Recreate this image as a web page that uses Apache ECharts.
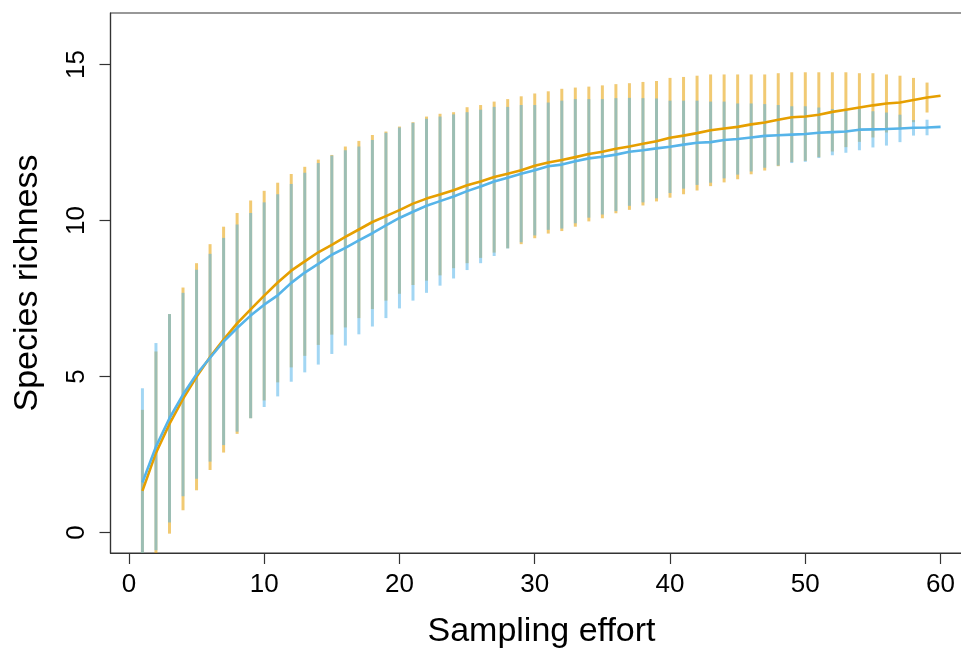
<!DOCTYPE html>
<html>
<head>
<meta charset="utf-8">
<script src="https://cdn.jsdelivr.net/npm/echarts@6/dist/echarts.min.js"></script>
<style>
html,body{margin:0;padding:0;background:#fff;}
#chart{width:961px;height:648px;}
</style>
</head>
<body>
<div id="chart"></div>
<script>
// Sampling effort (x) values
const effort = [1,2,3,4,5,6,7,8,9,10,11,12,13,14,15,16,17,18,19,20,21,22,23,24,25,26,27,28,29,30,31,32,33,34,35,36,37,38,39,40,41,42,43,44,45,46,47,48,49,50,51,52,53,54,55,56,57,58,59,60];
// Orange series: mean richness and standard deviation
const orangeMean = [1.33,2.55,3.48,4.28,4.99,5.62,6.18,6.70,7.15,7.59,8.01,8.39,8.69,8.98,9.22,9.47,9.71,9.95,10.14,10.33,10.54,10.70,10.83,10.97,11.13,11.25,11.39,11.50,11.61,11.75,11.86,11.94,12.03,12.13,12.20,12.30,12.37,12.46,12.54,12.65,12.72,12.80,12.89,12.95,13.00,13.08,13.14,13.23,13.31,13.33,13.39,13.48,13.55,13.62,13.69,13.75,13.78,13.86,13.94,14.00];
const orangeSD = [2.60,3.25,3.52,3.57,3.64,3.62,3.62,3.54,3.49,3.36,3.20,3.10,3.03,2.97,2.88,2.90,2.84,2.79,2.71,2.68,2.61,2.63,2.59,2.50,2.50,2.45,2.42,2.39,2.37,2.32,2.28,2.28,2.23,2.16,2.13,2.07,2.03,1.98,1.93,1.92,1.88,1.84,1.79,1.73,1.68,1.60,1.54,1.49,1.44,1.42,1.36,1.27,1.20,1.10,1.03,0.93,0.86,0.71,0.48,0];
// Blue series: mean richness and standard deviation
const blueMean = [1.60,2.75,3.66,4.42,5.07,5.60,6.12,6.55,6.95,7.30,7.60,8.00,8.33,8.61,8.90,9.12,9.36,9.59,9.84,10.08,10.28,10.47,10.62,10.77,10.94,11.09,11.25,11.37,11.50,11.61,11.74,11.79,11.90,11.99,12.04,12.11,12.20,12.25,12.31,12.36,12.43,12.49,12.51,12.58,12.61,12.66,12.71,12.73,12.75,12.77,12.81,12.83,12.85,12.91,12.92,12.93,12.95,12.97,12.98,13.00];
const blueSD = [3.02,3.32,3.34,3.26,3.35,3.33,3.32,3.32,3.29,3.28,3.24,3.17,3.20,3.23,3.18,3.13,3.01,2.99,2.97,2.90,2.85,2.79,2.71,2.63,2.53,2.46,2.39,2.27,2.20,2.09,2.04,2.05,1.99,1.90,1.85,1.81,1.73,1.67,1.60,1.48,1.41,1.35,1.30,1.23,1.14,1.09,1.02,0.97,0.91,0.89,0.81,0.74,0.68,0.66,0.58,0.53,0.44,0.25,0.25,0];
// Tick labels
const xTicks = [0,10,20,30,40,50,60];
const yTicks = [0,5,10,15];
const xTitle = 'Sampling effort';
const yTitle = 'Species richness';

const FONT = '"Liberation Sans", Arial, Helvetica, sans-serif';
const ORANGE = '#E69F00', BLUE = '#56B4E9';

function barData(mean, sd){
  const out = [];
  for (let i = 0; i < effort.length; i++) {
    if (sd[i] > 0) out.push([effort[i], mean[i] - sd[i], mean[i] + sd[i]]);
  }
  return out;
}
function lineData(mean){ return effort.map((x,i)=>[x, mean[i]]); }

function makeRender(color){
  return function(params, api){
    const x = api.value(0), lo = api.value(1), hi = api.value(2);
    const p1 = api.coord([x, lo]), p2 = api.coord([x, hi]);
    const cs = params.coordSys;
    const top = cs.y, bot = cs.y + cs.height;
    const y1 = Math.min(Math.max(p1[1], top), bot);
    const y2 = Math.min(Math.max(p2[1], top), bot);
    return {type:'line', shape:{x1:p1[0], y1:y1, x2:p2[0], y2:y2},
      style:{stroke: color, lineWidth: 3, lineCap: 'butt'}};
  };
}

const chart = echarts.init(document.getElementById('chart'), null, {renderer:'canvas'});
chart.setOption({
  animation: false,
  backgroundColor: '#fff',
  grid: {left: 110.5, top: 13, width: 862, height: 540, show: true, borderColor: '#333', borderWidth: 1.2, backgroundColor: 'transparent', containLabel: false, outerBoundsMode: 'none'},
  xAxis: {
    type: 'value', min: -1.36, max: 62.36,
    name: xTitle, nameLocation: 'middle', nameGap: 62,
    nameTextStyle: {fontFamily: FONT, fontSize: 34, color: '#000'},
    axisLine: {show: true, onZero: false, lineStyle: {color: '#333', width: 1.2}},
    axisTick: {show: true, length: 11, lineStyle: {color: '#333', width: 1.2}, customValues: xTicks},
    axisLabel: {show: true, margin: 19, fontFamily: FONT, fontSize: 26, color: '#000', customValues: xTicks},
    splitLine: {show: false}
  },
  yAxis: {
    type: 'value', min: -0.66, max: 16.65,
    name: yTitle, nameLocation: 'middle', nameGap: 66, nameRotate: 90,
    nameTextStyle: {fontFamily: FONT, fontSize: 34, color: '#000'},
    axisLine: {show: true, onZero: false, lineStyle: {color: '#333', width: 1.2}},
    axisTick: {show: true, length: 11, lineStyle: {color: '#333', width: 1.2}, customValues: yTicks},
    axisLabel: {show: true, margin: 21, rotate: 90, fontFamily: FONT, fontSize: 26, color: '#000', customValues: yTicks},
    splitLine: {show: false}
  },
  series: [
    {type:'custom', name:'orange bars', renderItem: makeRender('rgba(230,159,0,0.55)'), data: barData(orangeMean, orangeSD), z: 1, silent: true},
    {type:'custom', name:'blue bars', renderItem: makeRender('rgba(86,180,233,0.55)'), data: barData(blueMean, blueSD), z: 2, silent: true},
    {type:'line', name:'orange', data: lineData(orangeMean), showSymbol:false, symbol:'none', lineStyle:{color: ORANGE, width: 2.6}, itemStyle:{color: ORANGE}, z: 3, silent: true},
    {type:'line', name:'blue', data: lineData(blueMean), showSymbol:false, symbol:'none', lineStyle:{color: BLUE, width: 2.6}, itemStyle:{color: BLUE}, z: 4, silent: true}
  ]
});
</script>
</body>
</html>
